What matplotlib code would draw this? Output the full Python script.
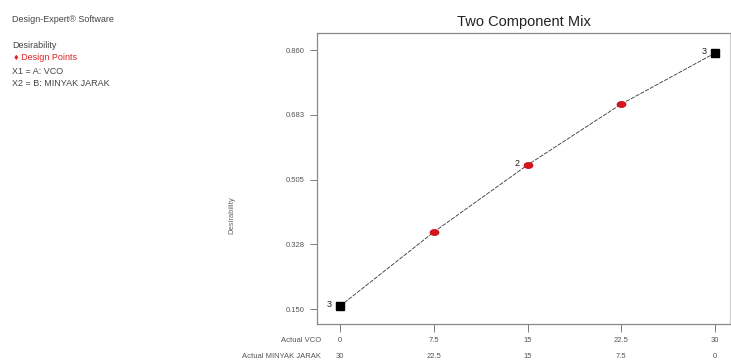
from matplotlib import pyplot as plt
from matplotlib.path import Path

# data
vco = [0, 7.5, 15, 22.5, 30]
minyak_jarak = [30, 22.5, 15, 7.5, 0]
desirability = [0.158, 0.361, 0.545, 0.712, 0.852]
point_kind = ['end', 'design', 'design', 'design', 'end']
point_count = ['3', '', '2', '', '3']
y_ticks = [0.150, 0.328, 0.505, 0.683, 0.860]

plt.rcParams['font.family'] = ['Liberation Sans', 'DejaVu Sans']

circle = Path.unit_circle()
ellipse = Path(circle.vertices * [1.5, 1.0], circle.codes)

fig = plt.figure(figsize=(7.31, 3.63), dpi=100)
ax = fig.add_axes([317 / 731, 1 - 324 / 363, 413 / 731, 291 / 363])

ax.plot(vco, desirability, color='#333', lw=0.6, ls=(0, (5, 1.5)), zorder=2)
for x, y, kind, n in zip(vco, desirability, point_kind, point_count):
    if kind == 'end':
        ax.plot(x, y, marker='s', ms=5.5, mfc='black', mec='black', zorder=3)
        off = -6
    else:
        ax.plot(x, y, marker=ellipse, ms=6.5, mfc='#d8141c', mec='#c00010',
                mew=0.5, zorder=3)
        off = -6
    if n:
        ax.annotate(n, (x, y), xytext=(off, 1), textcoords='offset points',
                    ha='right', va='center', fontsize=6.5, color='#222')

ax.set_xlim(-1.84, 31.2)
ax.set_ylim(0.109, 0.907)
ax.set_yticks(y_ticks)
ax.set_yticklabels(['%.3f' % v for v in y_ticks])
ax.set_xticks(vco)
ax.set_xticklabels([])
ax.tick_params(axis='y', length=5, width=0.6, color='#666', labelsize=5.5,
               labelcolor='#555', pad=4)
ax.tick_params(axis='x', length=6, width=0.6, color='#666')
for s in ax.spines.values():
    s.set_color('#888')
    s.set_linewidth(0.9)
ax.spines['right'].set_color('#ccc')

ax.set_title('Two Component Mix', fontsize=10.5, color='#222', pad=5)
fig.text(232 / 731, 1 - 215 / 363, 'Desirability', rotation=90, ha='center',
         va='center', fontsize=5.5, color='#666')

# component rows under the axis
for xv, a, b in zip(vco, vco, minyak_jarak):
    ax.annotate('%g' % a, (xv, 0), xycoords=('data', 'axes fraction'),
                xytext=(0, -17), textcoords='offset pixels', ha='center',
                va='center', fontsize=5.5, color='#555')
    ax.annotate('%g' % b, (xv, 0), xycoords=('data', 'axes fraction'),
                xytext=(0, -33), textcoords='offset pixels', ha='center',
                va='center', fontsize=5.5, color='#555')
fig.text(321 / 731, 1 - 341 / 363, 'Actual VCO', ha='right', va='center',
         fontsize=5.5, color='#555')
fig.text(321 / 731, 1 - 357 / 363, 'Actual MINYAK JARAK', ha='right',
         va='center', fontsize=5.5, color='#555')

# side notes
notes = [('Design-Expert® Software', 20, '#444'),
         ('Desirability', 46, '#444'),
         ('♦ Design Points', 58, '#e02020'),
         ('X1 = A: VCO', 71, '#444'),
         ('X2 = B: MINYAK JARAK', 84, '#444')]
for txt, yp, c in notes:
    x0 = 14 if txt.startswith('♦') else 12
    fig.text(x0 / 731, 1 - yp / 363, txt, ha='left', va='center',
             fontsize=6.5, color=c)

fig.savefig('out.png', dpi=100)
